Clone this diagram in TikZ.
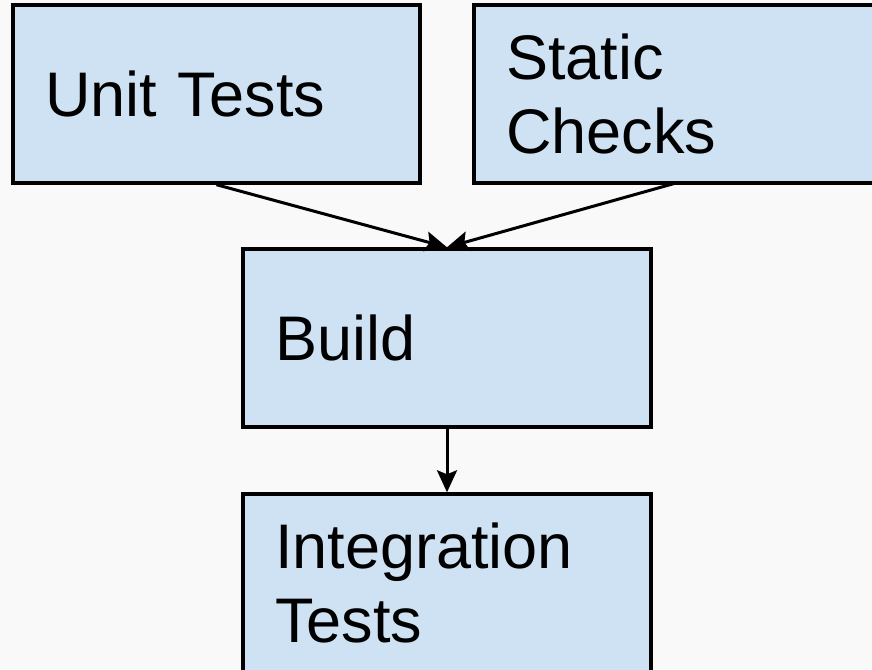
\documentclass[tikz,border=0pt]{standalone}
\usepackage{fontspec}
\setmainfont{Liberation Sans}
\usetikzlibrary{arrows.meta}
\definecolor{bg}{HTML}{F9F9F9}
\definecolor{boxblue}{HTML}{CFE2F3}
\tikzset{
  box/.style={draw=black, fill=boxblue, line width=3.4pt, rectangle,
    minimum height=178pt, inner xsep=32pt, inner ysep=0pt, align=left,
    font=\fontsize{63pt}{74pt}\selectfont},
  conn/.style={draw=black, line width=3pt, -{Stealth[length=22pt,width=20pt,inset=4pt]}}
}
\begin{document}
\begin{tikzpicture}[x=1pt,y=-1pt]
\useasboundingbox (0,0) rectangle (872,669);
\clip (0,0) rectangle (872,669);
\fill[bg] (0,0) rectangle (872,669);
\node[box, minimum width=407pt, text width=343pt] (unit) at (216.5,94) {Unit Tests};
\node[box, minimum width=420pt, text width=356pt] (static) at (684,94) {Static\\Checks};
\node[box, minimum width=408pt, text width=344pt] (build) at (447,338) {Build};
\node[box, minimum width=408pt, text width=344pt] (integ) at (447,583) {Integration\\Tests};
\coordinate (s2) at (676,183);
\draw[conn] (unit.south) -- (build.north);
\draw[conn] (s2) -- (build.north);
\draw[conn] (build.south) -- (integ.north);
\end{tikzpicture}
\end{document}
